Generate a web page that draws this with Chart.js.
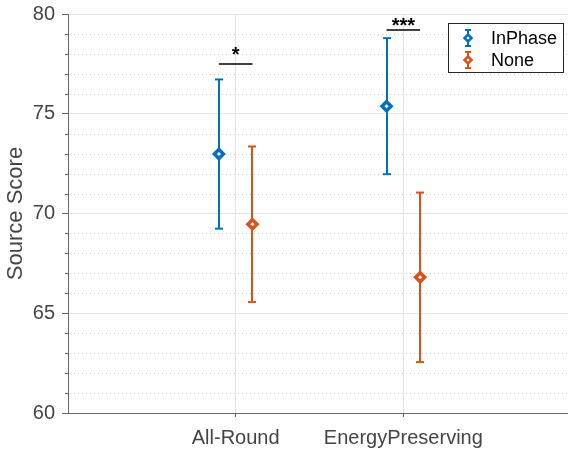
<!DOCTYPE html>
<html>
<head>
<meta charset="UTF-8">
<script src="https://cdn.jsdelivr.net/npm/chart.js@4"></script>
<style>
  html, body { margin: 0; padding: 0; background: white; overflow: hidden; }
  #wrap { width: 579px; height: 450px; }
</style>
</head>
<body>
<div id="wrap"><canvas id="chart" width="579" height="450"></canvas></div>
<script>
// data
const categories = ['All-Round', 'EnergyPreserving'];
const seriesNames = ['InPhase', 'None'];
const inPhaseMean = [72.98, 75.38];
const inPhaseErr = [3.74, 3.41];
const noneMean = [69.46, 66.80];
const noneErr = [3.90, 4.25];
const yTicks = [60, 65, 70, 75, 80];
const sigLabels = ['*', '***'];
const sigLineY = [77.5, 79.2];
const sigTextY = [78.14, 79.57];

const BLUE = '#0072BD';
const ORANGE = '#D95319';
const FONT = "'Liberation Sans', Arial, Helvetica, sans-serif";
const GROUP_OFFSET = 0.1;

function line(ctx, x1, y1, x2, y2) {
  ctx.beginPath();
  ctx.moveTo(x1, y1);
  ctx.lineTo(x2, y2);
  ctx.stroke();
}

function diamond(ctx, x, y, r, color) {
  ctx.beginPath();
  ctx.moveTo(x, y - r);
  ctx.lineTo(x + r, y);
  ctx.lineTo(x, y + r);
  ctx.lineTo(x - r, y);
  ctx.closePath();
  ctx.fillStyle = 'white';
  ctx.fill();
  ctx.strokeStyle = color;
  ctx.lineWidth = 2.5;
  ctx.stroke();
}

// minor grid, error bars, significance marks and legend
const errorBars = {
  id: 'errorBars',
  beforeDatasetsDraw(chart) {
    const { ctx, chartArea: a, scales: { x, y } } = chart;
    ctx.save();
    ctx.lineWidth = 1;
    for (let v = y.min + 1; v < y.max; v++) {
      if (yTicks.includes(v)) continue;
      const py = Math.round(y.getPixelForValue(v)) + 0.5;
      ctx.strokeStyle = '#cccccc';
      ctx.setLineDash([1, 3]);
      line(ctx, a.left + 2, py, a.right, py);
      ctx.setLineDash([]);
      ctx.strokeStyle = '#666';
      line(ctx, a.left - 3, py, a.left, py);
    }
    chart.data.datasets.forEach(ds => {
      ctx.strokeStyle = ds.borderColor;
      ctx.lineWidth = 2;
      ds.data.forEach((p, i) => {
        const px = Math.round(x.getPixelForValue(p.x));
        const top = y.getPixelForValue(p.y + ds.err[i]);
        const bot = y.getPixelForValue(p.y - ds.err[i]);
        line(ctx, px, top, px, bot);
        line(ctx, px - 4, top, px + 4, top);
        line(ctx, px - 4, bot, px + 4, bot);
      });
    });
    ctx.restore();
  },
  afterDraw(chart) {
    const { ctx, scales: { x, y } } = chart;
    ctx.save();
    // significance brackets
    ctx.strokeStyle = '#000';
    ctx.fillStyle = '#000';
    ctx.lineWidth = 1.5;
    ctx.font = 'bold 20px ' + FONT;
    ctx.textAlign = 'center';
    ctx.textBaseline = 'middle';
    sigLabels.forEach((lab, i) => {
      const x1 = x.getPixelForValue(i + 1 - GROUP_OFFSET);
      const x2 = x.getPixelForValue(i + 1 + GROUP_OFFSET);
      const py = y.getPixelForValue(sigLineY[i]);
      line(ctx, x1, py, x2, py);
      ctx.fillText(lab, x.getPixelForValue(i + 1), y.getPixelForValue(sigTextY[i]) + 4);
    });
    // legend box
    const lx = 448, ly = 23, lw = 115, lh = 49;
    ctx.fillStyle = 'white';
    ctx.fillRect(lx, ly, lw, lh);
    ctx.strokeStyle = '#262626';
    ctx.lineWidth = 1;
    ctx.strokeRect(lx + 0.5, ly + 0.5, lw, lh);
    ctx.font = '18px ' + FONT;
    ctx.textAlign = 'left';
    chart.data.datasets.forEach((ds, i) => {
      const cy = 38 + i * 22;
      const cx = 468;
      ctx.strokeStyle = ds.borderColor;
      ctx.lineWidth = 2;
      line(ctx, cx, cy - 8, cx, cy + 8);
      line(ctx, cx - 3, cy - 8, cx + 3, cy - 8);
      line(ctx, cx - 3, cy + 8, cx + 3, cy + 8);
      diamond(ctx, cx, cy, 3.5, ds.borderColor);
      ctx.fillStyle = '#000';
      ctx.fillText(ds.label, 491, cy + 1);
    });
    ctx.restore();
  }
};

function makeSeries(name, means, errs, offset, color) {
  return {
    label: name,
    data: means.map((m, i) => ({ x: i + 1 + offset, y: m })),
    err: errs,
    borderColor: color,
    backgroundColor: 'white',
    pointStyle: 'rectRot',
    pointRadius: 4.5,
    pointBorderWidth: 3.5,
    showLine: false
  };
}

new Chart(document.getElementById('chart'), {
  type: 'scatter',
  data: {
    datasets: [
      makeSeries(seriesNames[0], inPhaseMean, inPhaseErr, -GROUP_OFFSET, BLUE),
      makeSeries(seriesNames[1], noneMean, noneErr, GROUP_OFFSET, ORANGE)
    ]
  },
  options: {
    responsive: false,
    animation: false,
    events: [],
    layout: { padding: { top: 14, right: 0, bottom: 0, left: 0 } },
    plugins: { legend: { display: false }, tooltip: { enabled: false } },
    scales: {
      x: {
        type: 'linear',
        min: 0,
        max: 3,
        afterBuildTicks: s => { s.ticks = categories.map((c, i) => ({ value: i + 1 })); },
        afterFit: s => { s.height = 37; },
        ticks: {
          callback: v => categories[v - 1] || '',
          font: { family: FONT, size: 20 },
          color: '#444',
          padding: 9,
          maxRotation: 0
        },
        grid: { color: '#e4e4e4', tickColor: '#666', tickLength: 4 },
        border: { color: '#666', width: 1 }
      },
      y: {
        min: 60,
        max: 80,
        afterBuildTicks: s => { s.ticks = yTicks.map(v => ({ value: v })); },
        afterFit: s => { s.width = 68; s.paddingTop = 0; s.paddingBottom = 0; },
        ticks: {
          font: { family: FONT, size: 20 },
          color: '#444',
          padding: 7
        },
        grid: { color: '#e4e4e4', tickColor: '#666', tickLength: 6 },
        border: { color: '#666', width: 1 },
        title: {
          display: true,
          text: 'Source Score',
          font: { family: FONT, size: 22 },
          color: '#444',
          padding: { top: 3, bottom: 0 }
        }
      }
    }
  },
  plugins: [errorBars]
});
</script>
</body>
</html>
